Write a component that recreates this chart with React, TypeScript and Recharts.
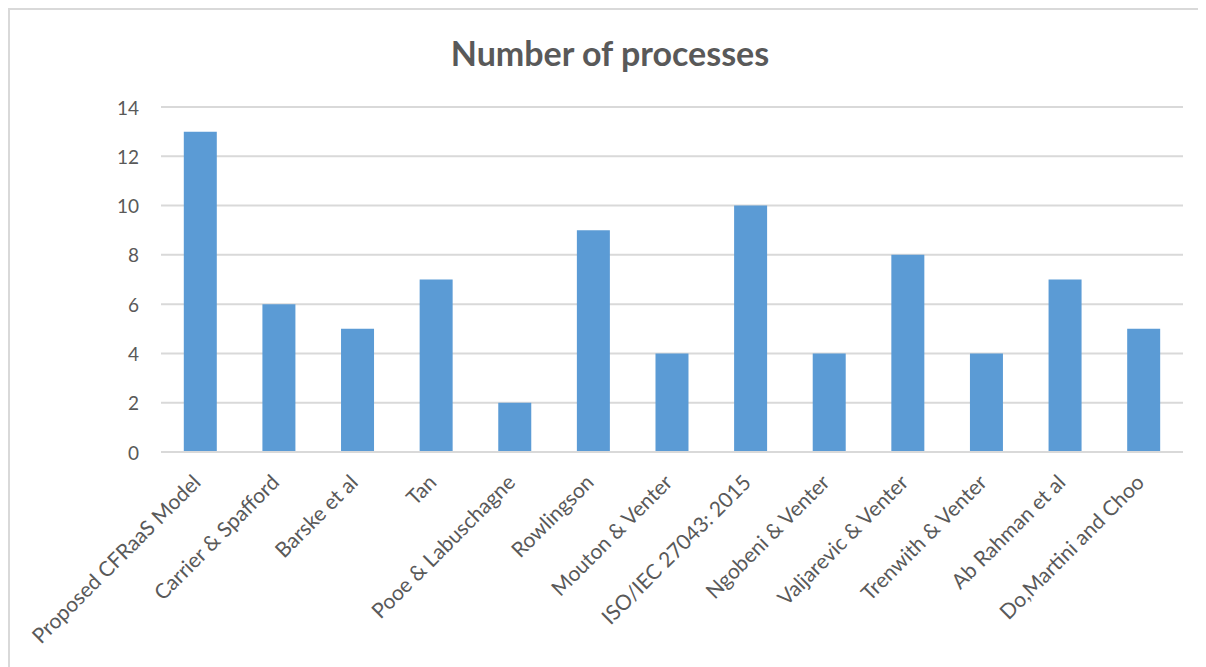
import React from "react";
import { BarChart, Bar, XAxis, YAxis, CartesianGrid } from "recharts";

const categories = [
  "Proposed CFRaaS Model",
  "Carrier & Spafford",
  "Barske et al",
  "Tan",
  "Pooe & Labuschagne",
  "Rowlingson",
  "Mouton & Venter",
  "ISO/IEC 27043: 2015",
  "Ngobeni & Venter",
  "Valjarevic & Venter",
  "Trenwith & Venter",
  "Ab Rahman et al",
  "Do,Martini and Choo",
];
const processes = [13, 6, 5, 7, 2, 9, 4, 10, 4, 8, 4, 7, 5];
const yTicks = [0, 2, 4, 6, 8, 10, 12, 14];

const data = categories.map((name, i) => ({ name, value: processes[i] }));

const FONT = "Lato, 'Open Sans', sans-serif";
const TEXT = "#595959";

const XTick = (props: any) => {
  const { x, y, payload } = props;
  return (
    <g transform={`translate(${x - 2},${y + 20})`}>
      <text
        transform="rotate(-45)"
        textAnchor="end"
        fill={TEXT}
        fontSize={21}
        fontFamily={FONT}
        dominantBaseline="middle"
      >
        {payload.value}
      </text>
    </g>
  );
};

const YTick = (props: any) => {
  const { x, y, payload } = props;
  return (
    <text
      x={x - 14}
      y={y}
      textAnchor="end"
      dominantBaseline="central"
      fill={TEXT}
      fontSize={19}
      fontFamily={FONT}
    >
      {payload.value}
    </text>
  );
};

export default function App() {
  return (
    <div
      style={{
        position: "relative",
        width: 1198,
        height: 659,
        borderTop: "2px solid #D9D9D9",
        borderLeft: "2px solid #D9D9D9",
        background: "#fff",
        fontFamily: FONT,
      }}
    >
      <div
        style={{
          position: "absolute",
          left: 0,
          width: 1200,
          top: 23,
          lineHeight: "40px",
          textAlign: "center",
          fontSize: 34,
          fontWeight: 700,
          color: TEXT,
          fontFamily: FONT,
        }}
      >
        Number of processes
      </div>
      <BarChart
        width={1196}
        height={657}
        data={data}
        margin={{ top: 97, right: 23, bottom: 10, left: 0 }}
        barCategoryGap="29%"
      >
        <CartesianGrid vertical={false} stroke="#D9D9D9" strokeWidth={2} />
        <XAxis
          dataKey="name"
          interval={0}
          height={205}
          axisLine={{ stroke: "#D9D9D9", strokeWidth: 2 }}
          tickLine={false}
          tick={<XTick />}
        />
        <YAxis
          width={151}
          domain={[0, 14]}
          ticks={yTicks}
          axisLine={false}
          tickLine={false}
          tick={<YTick />}
        />
        <Bar dataKey="value" fill="#5B9BD5" isAnimationActive={false} />
      </BarChart>
    </div>
  );
}
